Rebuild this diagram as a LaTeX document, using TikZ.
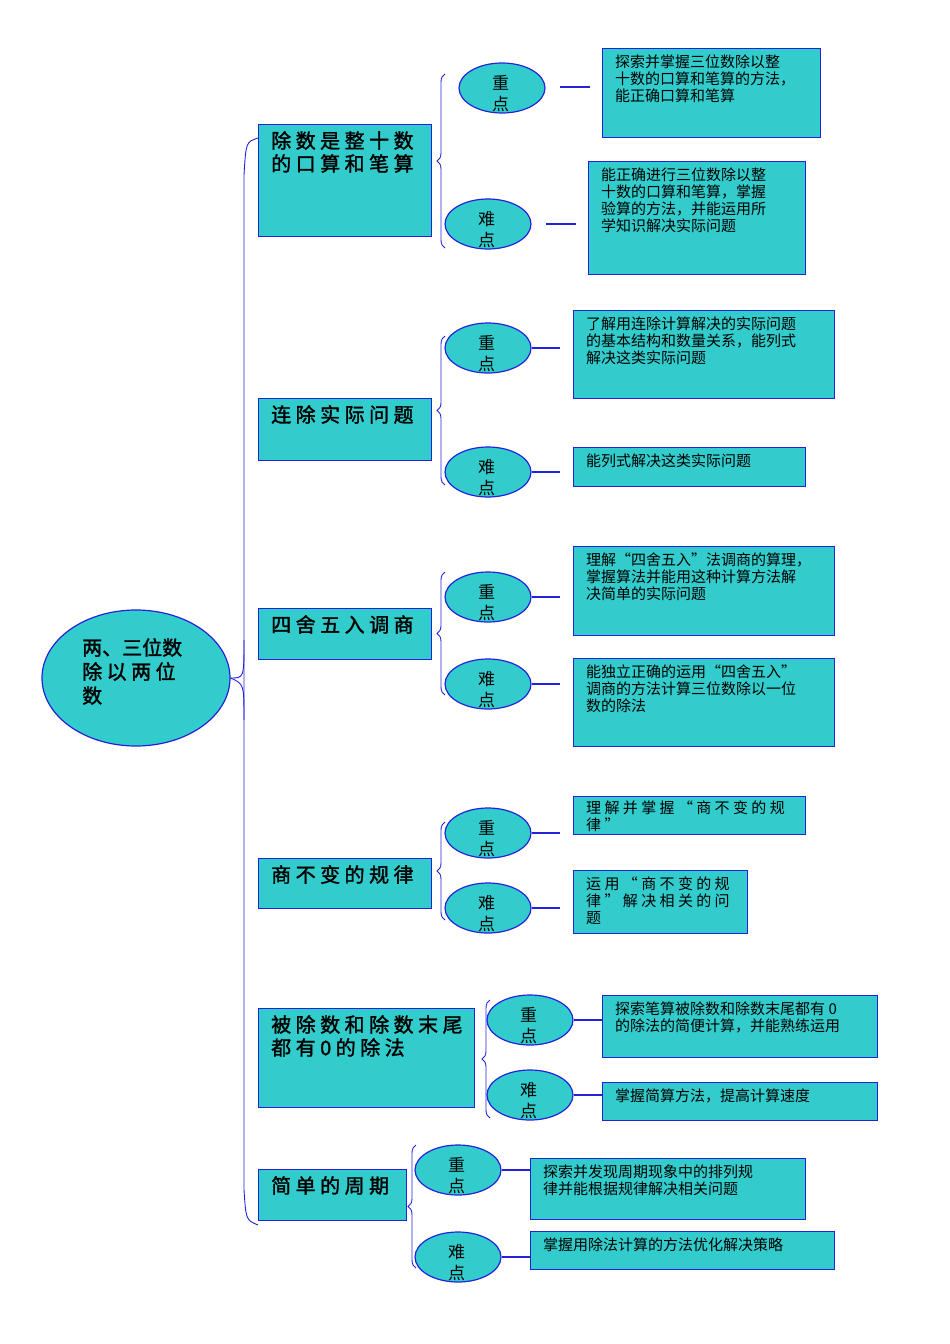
\documentclass[tikz,border=0pt]{standalone}
\usepackage{fontspec}
\setmainfont{Noto Sans CJK SC}
\newfontfamily\cjkb{Noto Sans CJK SC}[FakeBold=1.5]
\usetikzlibrary{decorations.pathreplacing}
\definecolor{tealf}{HTML}{33CCCC}
\definecolor{bl}{HTML}{2222DD}
\tikzset{
 shp/.style={draw=bl,fill=tealf,line width=1.2pt,inner sep=0pt,anchor=north west},
 ttl/.style={anchor=north west,align=left,inner sep=0pt,font=\fontsize{20}{23}\cjkb\selectfont},
 dtl/.style={anchor=north west,align=left,inner sep=0pt,font=\fontsize{15}{17}\selectfont},
 ell/.style={draw=bl,fill=tealf,ellipse,line width=1.2pt,minimum width=86pt,minimum height=50pt,inner sep=0pt},
 etx/.style={anchor=north west,align=left,inner sep=0pt,font=\fontsize{17}{21}\selectfont},
 conn/.style={draw=bl,line width=2.5pt},
 thin/.style={draw=bl,line width=0.9pt},
 brc/.style={thin,decorate,decoration={brace,amplitude=8pt}}
}
\usetikzlibrary{shapes.geometric}
% box: name x1 y1 x2 y2 style text
\newcommand\mybox[7]{\node[shp,minimum width={#4pt-#2pt},minimum height={#5pt-#3pt}] (#1) at (#2,#3) {};
 \node[#6] (#1t) at ([xshift=13pt,yshift=-7pt]#1.north west) {#7};}
\newcommand\myell[3]{\node[ell] (#1) at (#2,#3) {};
 \node[etx] (#1t) at (#2-10,#3-13) {重\\点};}
\newcommand\myelln[3]{\node[ell] (#1) at (#2,#3) {};
 \node[etx] (#1t) at (#2-10,#3-13) {难\\点};}
\begin{document}
\begin{tikzpicture}[x=1pt,y=-1pt]
\useasboundingbox (0,0) rectangle (950,1344);
% root
\node[draw=bl,fill=tealf,ellipse,line width=1.2pt,minimum width=188pt,minimum height=136pt] (root) at (136,678) {};
\node[anchor=north west,align=left,inner sep=0pt,font=\fontsize{20}{24}\cjkb\selectfont] (roott) at (82,638) {两、三位数\\除 以 两 位\\数};
% trunk
\coordinate (tA) at (258,138);
\coordinate (tB) at (258,1225);
\draw[thin] (tA) .. controls (246,142) .. (244,175) -- (244,1190) .. controls (246,1220) .. (tB);
\draw[thin] (root.east) .. controls (244,678) .. (244,640);
\draw[thin] (root.east) .. controls (244,684) .. (244,720);
% topics
\mybox{t1}{258}{124}{431}{236}{ttl}{除 数 是 整 十 数\\的 口 算 和 笔 算}
\mybox{t2}{258}{398}{431}{460}{ttl}{连 除 实 际 问 题}
\mybox{t3}{258}{608}{431}{659}{ttl}{四 舍 五 入 调 商}
\mybox{t4}{258}{858}{431}{908}{ttl}{商 不 变 的 规 律}
\mybox{t5}{258}{1008}{474}{1107}{ttl}{被 除 数 和 除 数 末 尾\\都 有 0 的 除 法}
\mybox{t6}{258}{1169}{406}{1220}{ttl}{简 单 的 周 期}
% braces
\draw[brc] (445,248) -- (445,74);
\draw[brc] (445,485) -- (445,336);
\draw[brc] (445,695) -- (445,572);
\draw[brc] (445,920) -- (445,822);
\draw[brc] (490,1118) -- (490,1000);
\draw[brc] (416,1268) -- (416,1145);
% ellipses
\myell{e1}{502}{88}\myelln{e2}{488}{224}
\myell{e3}{488}{348}\myelln{e4}{488}{472}
\myell{e5}{488}{597}\myelln{e6}{488}{684}
\myell{e7}{488}{833}\myelln{e8}{488}{908}
\myell{e9}{530}{1020}\myelln{e10}{530}{1095}
\myell{e11}{458}{1170}\myelln{e12}{458}{1257}
% details
\mybox{d1}{602}{48}{820}{137}{dtl}{探索并掌握三位数除以整\\十数的口算和笔算的方法，\\能正确口算和笔算}
\mybox{d2}{588}{161}{805}{274}{dtl}{能正确进行三位数除以整\\十数的口算和笔算，掌握\\验算的方法，并能运用所\\学知识解决实际问题}
\mybox{d3}{573}{310}{834}{398}{dtl}{了解用连除计算解决的实际问题\\的基本结构和数量关系，能列式\\解决这类实际问题}
\mybox{d4}{573}{447}{805}{486}{dtl}{能列式解决这类实际问题}
\mybox{d5}{573}{546}{834}{635}{dtl}{理解“四舍五入”法调商的算理，\\掌握算法并能用这种计算方法解\\决简单的实际问题}
\mybox{d6}{573}{658}{834}{746}{dtl}{能独立正确的运用“四舍五入”\\调商的方法计算三位数除以一位\\数的除法}
\node[shp,minimum width=232pt,minimum height=38pt] (d7) at (573,796) {};
\begin{scope}
\clip (573,797) rectangle (805,833);
\node[dtl] (d7t) at ([xshift=13pt,yshift=-5pt]d7.north west) {理 解 并 掌 握 “ 商 不 变 的 规\\律 ”};
\end{scope}
\mybox{d8}{573}{870}{747}{933}{dtl}{运 用 “ 商 不 变 的 规\\律 ” 解 决 相 关 的 问\\题}
\mybox{d9}{602}{995}{877}{1057}{dtl}{探索笔算被除数和除数末尾都有 0\\的除法的简便计算，并能熟练运用}
\mybox{d10}{602}{1082}{877}{1120}{dtl}{掌握简算方法，提高计算速度}
\mybox{d11}{530}{1158}{805}{1219}{dtl}{探索并发现周期现象中的排列规\\律并能根据规律解决相关问题}
\mybox{d12}{530}{1231}{834}{1269}{dtl}{掌握用除法计算的方法优化解决策略}
% connectors
\coordinate (c1a) at (560,87); \coordinate (c1b) at (590,87);
\draw[conn] (c1a) -- (c1b);
\coordinate (c2a) at (546,224); \coordinate (c2b) at (576,224);
\draw[conn] (c2a) -- (c2b);
\coordinate (c3) at (560,348); \draw[conn] (e3.east) -- (c3);
\coordinate (c4) at (560,472); \draw[conn] (e4.east) -- (c4);
\coordinate (c5) at (560,597); \draw[conn] (e5.east) -- (c5);
\coordinate (c6) at (560,684); \draw[conn] (e6.east) -- (c6);
\coordinate (c7) at (560,833); \draw[conn] (e7.east) -- (c7);
\coordinate (c8) at (560,908); \draw[conn] (e8.east) -- (c8);
\draw[conn] (e9.east) -- (e9.east -| d9.west);
\draw[conn] (e10.east) -- (e10.east -| d10.west);
\draw[conn] (e11.east) -- (e11.east -| d11.west);
\draw[conn] (e12.east) -- (e12.east -| d12.west);
\end{tikzpicture}
\end{document}
